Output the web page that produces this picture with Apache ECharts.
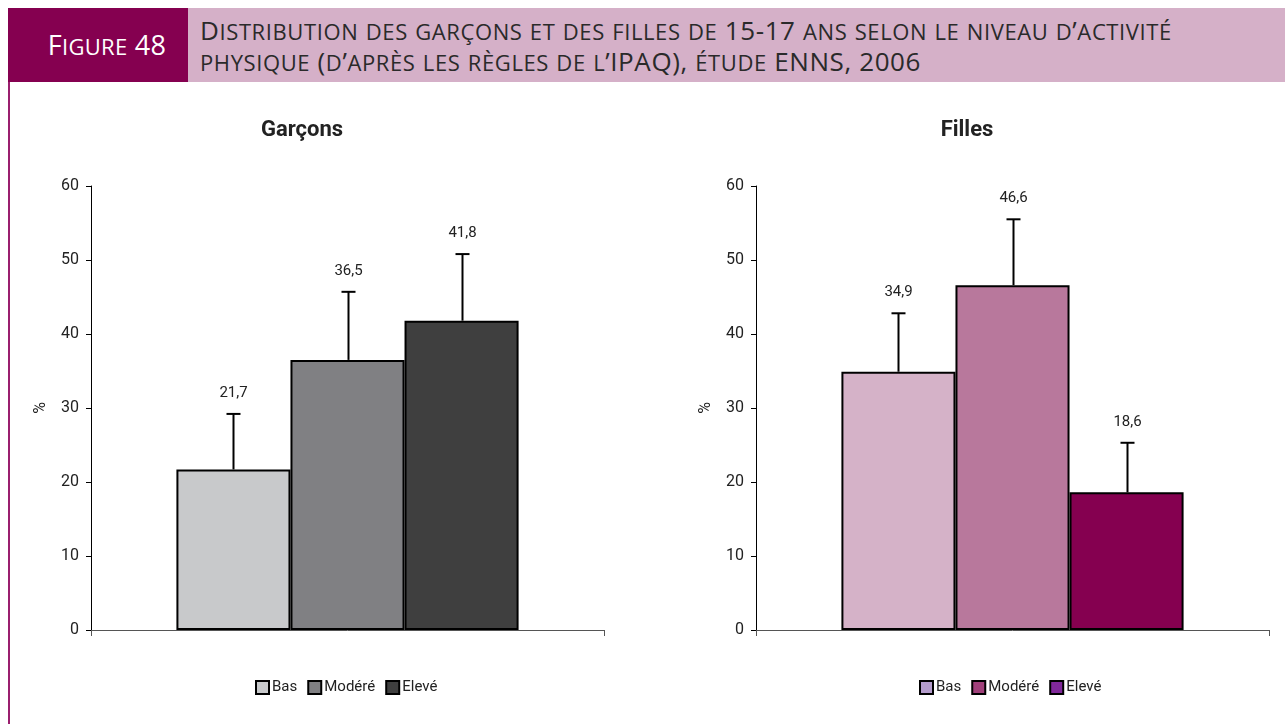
<!DOCTYPE html>
<html>
<head>
<meta charset="utf-8">
<script src="https://cdn.jsdelivr.net/npm/echarts@6/dist/echarts.min.js"></script>
<style>
  html, body { margin: 0; padding: 0; background: #fff; }
  #wrap { position: relative; width: 1285px; height: 724px; overflow: hidden; }
  #chart { position: absolute; left: 0; top: 0; width: 1285px; height: 724px; }
  .fig-box {
    position: absolute; left: 8px; top: 8px; width: 180px; height: 74px;
    background: #850050; color: #fff;
    font-family: "Open Sans", sans-serif;
    line-height: 74px; text-align: center; padding-left: 18px; box-sizing: border-box; letter-spacing: 0.3px;
  }
  .fig-title {
    position: absolute; left: 188px; top: 8px; right: 0; height: 74px;
    background: #d5b0c8; color: #2a2a2a;
    font-family: "Open Sans", sans-serif; letter-spacing: 0.6px;
    line-height: 27px; padding: 9px 0 0 12px; box-sizing: border-box; white-space: nowrap;
  }
  .sc-big { font-size: 26px; }
  .sc-small { font-size: 22px; }
  .fig-box .sc-big { font-size: 27px; }
  .fig-box .sc-small { font-size: 22px; }
  .side-line { position: absolute; left: 8px; top: 82px; width: 2px; height: 642px; background: #9a1f6e; }
</style>
</head>
<body>
<div id="wrap">
  <div id="chart"></div>
  <div class="fig-box" data-sc="Figure 48"></div>
  <div class="fig-title"><span data-sc="Distribution des garçons et des filles de 15-17 ans selon le niveau d’activité"></span><br><span data-sc="physique (d’après les règles de l’IPAQ), étude ENNS, 2006"></span></div>
  <div class="side-line"></div>
</div>
<script>
// données
var categories = ['Bas', 'Modéré', 'Elevé'];
var garconsValues = [21.7, 36.5, 41.8];
var garconsUpper = [29.2, 45.7, 50.8];
var fillesValues = [34.9, 46.6, 18.6];
var fillesUpper = [42.8, 55.5, 25.3];
var yTicks = [0, 10, 20, 30, 40, 50, 60];

var garconsColors = ['#c8c9cb', '#808083', '#3f3f3f'];
var fillesColors = ['#d5b2c8', '#b8789c', '#850050'];
var fillesLegendColors = ['#b49ccc', '#a0407a', '#80289a'];

var GAP = 0.333;
var fontFam = 'Roboto, "Liberation Sans", sans-serif';

// petites capitales faites à la main
document.querySelectorAll('[data-sc]').forEach(function (el) {
  var txt = el.getAttribute('data-sc');
  var html = '';
  for (var k = 0; k < txt.length; k++) {
    var ch = txt[k];
    var low = ch !== ch.toUpperCase();
    html += '<span class="' + (low ? 'sc-small' : 'sc-big') + '">' + ch.toUpperCase() + '</span>';
  }
  el.innerHTML = html;
});

function fmt(v) { return v.toFixed(1).replace('.', ','); }

function errRender(params, api) {
  var i = api.value(3);
  var base = api.coord([0, api.value(1)]);
  var top = api.coord([0, api.value(2)]);
  var catW = api.size([1, 0])[0];
  var bw = catW * (1 - GAP) / 3;
  var x = Math.round(base[0] + (i - 1) * bw) + 0.5;
  return {
    type: 'group',
    children: [
      { type: 'line', shape: { x1: x, y1: base[1], x2: x, y2: top[1] }, style: { stroke: '#000', lineWidth: 2 } },
      { type: 'line', shape: { x1: x - 7, y1: top[1], x2: x + 7, y2: top[1] }, style: { stroke: '#000', lineWidth: 2 } },
      { type: 'text', x: x, y: top[1] - 21, style: { text: fmt(api.value(1)), textAlign: 'center', textVerticalAlign: 'middle', fill: '#222', font: '15px ' + fontFam } }
    ]
  };
}

function panelSeries(idx, values, upper, colors) {
  var out = [];
  categories.forEach(function (c, i) {
    out.push({
      name: c, type: 'bar', xAxisIndex: idx, yAxisIndex: idx,
      data: [values[i]], barGap: '0%', barCategoryGap: (GAP * 100) + '%',
      itemStyle: { color: colors[i], borderColor: '#000', borderWidth: 2 },
      silent: true
    });
  });
  out.push({
    type: 'custom', xAxisIndex: idx, yAxisIndex: idx, renderItem: errRender, z: 5,
    encode: { x: 0, y: 2 },
    data: values.map(function (v, i) { return [0, v, upper[i], i]; }),
    silent: true
  });
  return out;
}

function xAx(idx) {
  return {
    type: 'category', gridIndex: idx, data: [''],
    axisLine: { lineStyle: { color: '#555', width: 1 } },
    axisTick: { show: true, length: 6, lineStyle: { color: '#555' } },
    axisLabel: { show: false }
  };
}
function yAx(idx) {
  return {
    type: 'value', gridIndex: idx, min: yTicks[0], max: yTicks[yTicks.length - 1], interval: 10,
    name: '%', nameLocation: 'middle', nameGap: 42,
    nameTextStyle: { fontSize: 16, color: '#222', fontFamily: fontFam },
    axisLine: { show: true, lineStyle: { color: '#000', width: 1 } },
    axisTick: { show: true, length: 5, lineStyle: { color: '#000' } },
    axisLabel: { fontSize: 16, color: '#222', margin: 12, fontFamily: fontFam },
    splitLine: { show: false }
  };
}
function legendItems(colors) {
  return categories.map(function (c, i) {
    return { name: c, itemStyle: { color: colors[i], borderColor: '#000', borderWidth: 2 } };
  });
}
function legend(left, colors) {
  return {
    left: left, top: 675, icon: 'rect', itemWidth: 13, itemHeight: 13, itemGap: 10, selectedMode: false,
    textStyle: { fontSize: 15, color: '#222', fontFamily: fontFam, padding: [0, 0, 0, -2] },
    data: legendItems(colors)
  };
}

var chart = echarts.init(document.getElementById('chart'));
chart.setOption({
  animation: false,
  grid: [
    { left: 91, right: 681, top: 186, bottom: 94 },
    { left: 756, right: 16, top: 186, bottom: 94 }
  ],
  xAxis: [xAx(0), xAx(1)],
  yAxis: [yAx(0), yAx(1)],
  legend: [legend(250, garconsColors), legend(914, fillesLegendColors)],
  graphic: [
    { type: 'text', x: 302, y: 130, style: { text: 'Garçons', textAlign: 'center', textVerticalAlign: 'middle', font: 'bold 22px ' + fontFam, fill: '#222' } },
    { type: 'text', x: 967, y: 130, style: { text: 'Filles', textAlign: 'center', textVerticalAlign: 'middle', font: 'bold 22px ' + fontFam, fill: '#222' } }
  ],
  series: panelSeries(0, garconsValues, garconsUpper, garconsColors)
    .concat(panelSeries(1, fillesValues, fillesUpper, fillesColors))
});
</script>
</body>
</html>
